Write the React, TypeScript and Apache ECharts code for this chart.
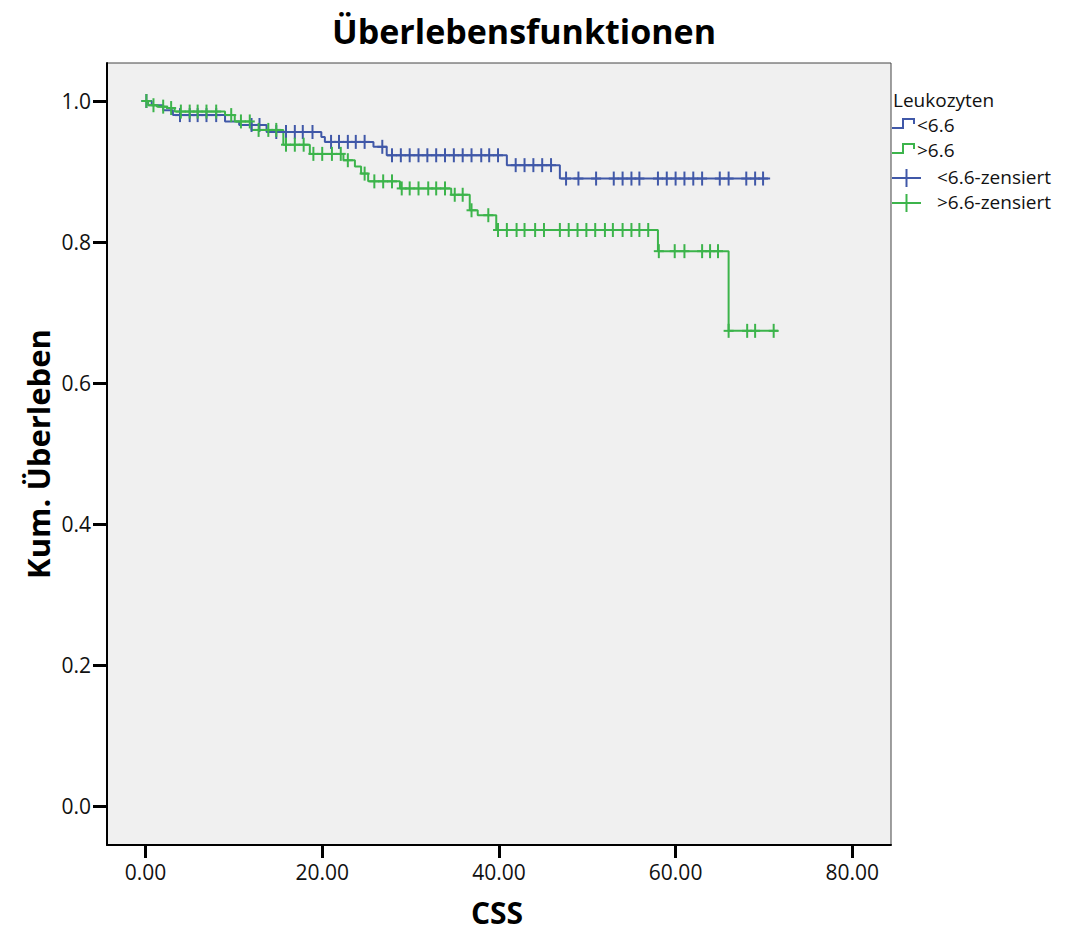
import React, { useEffect, useRef } from "react";
import * as echarts from "echarts";

// ---- Data ----
const xTicks = [0, 20, 40, 60, 80];
const yTicks = [0, 0.2, 0.4, 0.6, 0.8, 1.0];

// Group "<6.6" (blue)
const lowStepTimes = [0.7, 2.0, 3.1, 9.0, 10.6, 13.7, 19.9, 20.3, 25.8, 27.3, 40.9, 46.9];
const lowStepSurv = [0.994, 0.987, 0.98, 0.971, 0.966, 0.956, 0.949, 0.942, 0.935, 0.923, 0.909, 0.89];
const lowEnd = 70.7;
const lowCensored = [
  0.1, 3.9, 5.0, 5.9, 6.9, 8.0, 12.0, 12.9, 14.8, 15.9, 16.9, 17.8, 18.9,
  21.0, 21.9, 22.9, 23.8, 24.8, 26.8,
  27.9, 28.9, 29.9, 30.9, 31.9, 32.9, 33.9, 34.9, 35.9, 36.9, 38.0, 38.9, 39.9,
  41.9, 42.9, 43.9, 44.9, 45.9,
  47.6, 49.0, 51.0, 53.0, 54.0, 55.0, 55.9, 58.0, 59.0, 60.0, 61.0, 62.0, 63.0,
  65.0, 66.0, 68.0, 69.0, 69.9,
];

// Group ">6.6" (green)
const highStepTimes = [0.3, 1.3, 2.4, 3.3, 9.0, 10.1, 12.0, 15.6, 18.6, 22.4, 23.7, 24.4, 25.2, 28.8, 34.6, 36.7, 37.6, 39.7, 58.0, 66.0];
const highStepSurv = [0.994, 0.992, 0.99, 0.985, 0.98, 0.971, 0.959, 0.938, 0.925, 0.916, 0.907, 0.897, 0.886, 0.876, 0.867, 0.845, 0.838, 0.817, 0.787, 0.674];
const highEnd = 71.6;
const highCensored = [
  0.1, 0.9, 2.0, 2.9, 4.0, 5.0, 5.9, 6.9, 8.0, 9.7, 10.8, 11.8, 12.8, 13.9, 14.8,
  15.9, 16.9, 17.9, 19.0, 20.0, 21.1, 22.1, 22.9, 24.8, 25.9, 26.9, 27.9,
  29.0, 29.9, 30.9, 32.0, 32.9, 33.9, 35.0, 35.9, 36.9, 38.8,
  39.9, 40.9, 42.0, 42.9, 44.1, 45.1, 46.9, 47.9, 48.9, 49.9, 50.9, 52.0, 52.9,
  54.0, 55.0, 55.9, 56.9, 58.1, 59.9, 61.0, 63.0, 63.9, 64.8, 66.0, 68.1, 69.0, 71.1,
];

const groupNames = ["<6.6", ">6.6", "<6.6-zensiert", ">6.6-zensiert"];
const legendTitle = "Leukozyten";
const chartTitle = "Überlebensfunktionen";
const xName = "CSS";
const yName = "Kum. Überleben";

const BLUE = "#4058A8";
const GREEN = "#3CB44B";
const FONT = "'Open Sans', 'Noto Sans', sans-serif";

function levelAt(times: number[], surv: number[], t: number): number {
  let s = 1;
  for (let i = 0; i < times.length; i++) {
    if (times[i] <= t) s = surv[i];
  }
  return s;
}

function stepLine(times: number[], surv: number[], end: number): number[][] {
  const pts: number[][] = [[0, 1]];
  times.forEach((t, i) => pts.push([t, surv[i]]));
  pts.push([end, surv[surv.length - 1]]);
  return pts;
}

function censorSeries(name: string, times: number[], stepT: number[], stepS: number[], color: string) {
  return {
    name,
    type: "custom",
    data: times.map((t) => [t, levelAt(stepT, stepS, t)]),
    encode: { x: 0, y: 1 },
    z: 3,
    renderItem: (_params: any, api: any) => {
      const p = api.coord([api.value(0), api.value(1)]);
      return {
        type: "group",
        children: [
          { type: "line", shape: { x1: p[0] - 5, y1: p[1], x2: p[0] + 5, y2: p[1] }, style: { stroke: color, lineWidth: 2 } },
          { type: "line", shape: { x1: p[0], y1: p[1] - 7, x2: p[0], y2: p[1] + 7 }, style: { stroke: color, lineWidth: 2 } },
        ],
      };
    },
  };
}

export default function App() {
  const ref = useRef<HTMLDivElement>(null);
  useEffect(() => {
    document.body.style.margin = "0";
    const chart = echarts.init(ref.current!, null, { renderer: "svg" });
    const legendText = (text: string, x: number, y: number) => ({
      type: "text",
      x,
      y,
      style: { text, fill: "#111", font: `19px ${FONT}`, textVerticalAlign: "middle" },
    });
    const seg = (x1: number, y1: number, x2: number, y2: number, color: string) => ({
      type: "line",
      shape: { x1, y1, x2, y2 },
      style: { stroke: color, lineWidth: 2, lineCap: "square" },
    });
    const stepIcon = (y: number, color: string) => ({
      type: "group",
      children: [
        seg(893, y + 4, 903, y + 4, color),
        seg(903, y + 4, 903, y - 5, color),
        seg(903, y - 5, 914, y - 5, color),
        seg(914, y - 5, 914, y - 1, color),
      ],
    });
    chart.setOption({
      animation: false,
      backgroundColor: "#ffffff",
      title: {
        text: chartTitle,
        left: 519,
        top: 9,
        textAlign: "center",
        textStyle: { fontFamily: FONT, fontSize: 34, fontWeight: "bold", color: "#000" },
      },
      grid: {
        left: 107,
        top: 63,
        width: 784,
        height: 782,
        show: true,
        backgroundColor: "#F0F0F0",
        borderColor: "#444",
        borderWidth: 1,
      },
      xAxis: {
        type: "value",
        min: -4.36,
        max: 84.38,
        axisLine: { show: true, onZero: false, lineStyle: { color: "#000", width: 2 } },
        axisTick: { show: true, inside: false, customValues: xTicks, length: 13, lineStyle: { color: "#000", width: 3 } },
        axisLabel: {
          show: true,
          customValues: xTicks,
          formatter: (v: number) => v.toFixed(2),
          fontFamily: FONT,
          fontSize: 21,
          color: "#111",
          margin: 16,
        },
        splitLine: { show: false },
      },
      yAxis: {
        type: "value",
        min: -0.0553,
        max: 1.0539,
        axisLine: { show: true, onZero: false, lineStyle: { color: "#000", width: 2 } },
        axisTick: { show: true, inside: false, customValues: yTicks, length: 14, lineStyle: { color: "#000", width: 3 } },
        axisLabel: {
          show: true,
          customValues: yTicks,
          formatter: (v: number) => v.toFixed(1),
          fontFamily: FONT,
          fontSize: 21,
          color: "#111",
          margin: 16,
        },
        splitLine: { show: false },
      },
      graphic: [
        {
          type: "text",
          x: 38,
          y: 454,
          rotation: Math.PI / 2,
          style: { text: yName, fill: "#000", font: `bold 31px ${FONT}`, textAlign: "center", textVerticalAlign: "middle" },
        },
        {
          type: "text",
          x: 497,
          y: 912,
          style: { text: xName, fill: "#000", font: `bold 30px ${FONT}`, textAlign: "center", textVerticalAlign: "middle" },
        },
        legendText(legendTitle, 893, 100),
        stepIcon(124, BLUE),
        legendText(groupNames[0], 917, 125),
        stepIcon(149, GREEN),
        legendText(groupNames[1], 917, 150),
        seg(893, 178, 920, 178, BLUE),
        seg(906.5, 170, 906.5, 186, BLUE),
        legendText(groupNames[2], 937, 177),
        seg(893, 203, 920, 203, GREEN),
        seg(906.5, 195, 906.5, 211, GREEN),
        legendText(groupNames[3], 937, 202),
      ],
      series: [
        {
          name: groupNames[0],
          type: "line",
          step: "end",
          symbol: "none",
          data: stepLine(lowStepTimes, lowStepSurv, lowEnd),
          lineStyle: { color: BLUE, width: 2 },
          itemStyle: { color: BLUE },
          z: 2,
        },
        {
          name: groupNames[1],
          type: "line",
          step: "end",
          symbol: "none",
          data: stepLine(highStepTimes, highStepSurv, highEnd),
          lineStyle: { color: GREEN, width: 2 },
          itemStyle: { color: GREEN },
          z: 2,
        },
        censorSeries(groupNames[2], lowCensored, lowStepTimes, lowStepSurv, BLUE),
        censorSeries(groupNames[3], highCensored, highStepTimes, highStepSurv, GREEN),
      ],
    });
    return () => chart.dispose();
  }, []);
  return <div ref={ref} style={{ width: 1066, height: 933 }} />;
}
